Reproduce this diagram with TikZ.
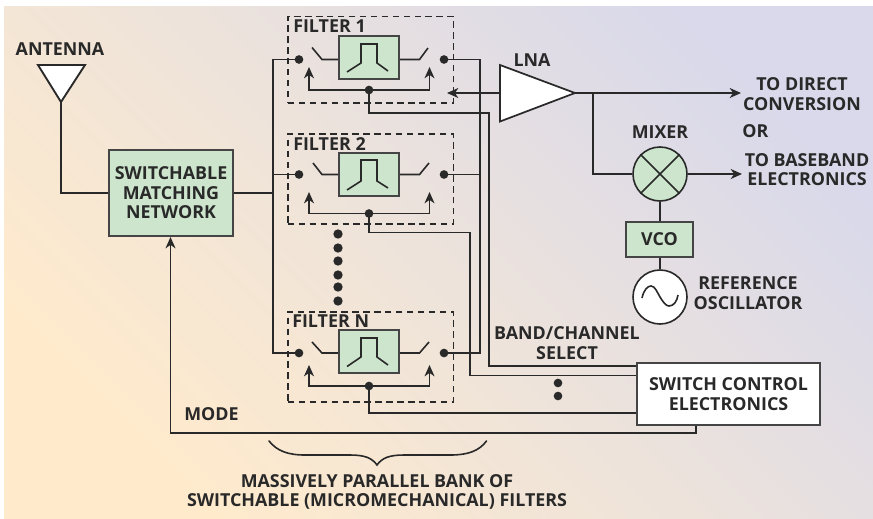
\documentclass[tikz,border=0pt]{standalone}
\usepackage{xcolor}
\usepackage{fontspec}
\setmainfont{Open Sans}
\usetikzlibrary{arrows.meta,shapes.geometric}

\begin{document}
\begin{tikzpicture}[x  = {(0.75pt,0pt)},
                    y  = {(0pt,-0.75pt)}]

  % COLORS
  \definecolor{inkcolor_d}{rgb}{ 0.16,0.16,0.16 }
  \definecolor{boxcolor_d}{rgb}{ 0.27,0.27,0.27 }
  \definecolor{greencolor_d}{rgb}{ 0.80,0.90,0.80 }
  \definecolor{peachcolor_d}{rgb}{ 1.00,0.92,0.80 }
  \definecolor{midcolor_d}{rgb}{ 0.93,0.89,0.86 }
  \definecolor{lavendercolor_d}{rgb}{ 0.85,0.85,0.92 }

  % STYLES
  \tikzstyle{wire_d} = [draw=inkcolor_d, line width=1.2pt, line join=miter]
  \tikzstyle{arrow_d} = [wire_d, -{Stealth[length=8.5pt,width=7.5pt,inset=2.6pt]}]
  \tikzstyle{dash_d} = [draw=inkcolor_d, line width=1pt, dash pattern=on 4.8pt off 3.4pt, minimum width=124pt, minimum height=65pt, inner sep=0pt]
  \tikzstyle{text_d} = [text=inkcolor_d, font=\fontsize{13.4}{14.6}\selectfont\bfseries, align=center, inner sep=0pt]
  \tikzstyle{block_d} = [text_d, draw=boxcolor_d, fill=greencolor_d, line width=1.5pt, inner sep=0pt]
  \tikzstyle{filter_d} = [block_d, minimum width=45pt, minimum height=32.5pt]
  \tikzstyle{round_d} = [circle, draw=inkcolor_d, line width=1.2pt, minimum size=40.5pt, inner sep=0pt]
  \tikzstyle{dot_d} = [circle, fill=inkcolor_d, minimum size=6.5pt, inner sep=0pt]

  % PAGE
  \useasboundingbox (0,0) rectangle (873,518);
  \fill[white] (0,0) rectangle (873,518);
  \shade[bottom color=peachcolor_d, top color=lavendercolor_d, middle color=midcolor_d, shading angle=-45] (4,6) rectangle (873,518);

  % DEF POINTS
  \coordinate (v0_ant) at (38,65);
  \coordinate (v1_ant) at (85,65);
  \coordinate (v2_ant) at (61,102);
  \coordinate (v0_lna) at (500,65);
  \coordinate (v1_lna) at (500,121.5);
  \coordinate (v2_lna) at (575,93);
  \coordinate (in_lna) at (500,93);
  \coordinate (tip_lna) at (447,93);
  \coordinate (tip_direct) at (741,93);
  \coordinate (tip_base) at (742,174);
  \coordinate (branch_lna) at (593,93);
  \coordinate (bus_l) at (273,193);
  \coordinate (bus_l1) at (273,59.5);
  \coordinate (bus_l2) at (273,174.5);
  \coordinate (bus_ln) at (273,353);
  \coordinate (bus_r2) at (480,174.5);
  \coordinate (bus_rn) at (480,353);
  \coordinate (sel_1) at (489,113);
  \coordinate (sel_2) at (470,232.5);
  \coordinate (sel_n) at (369,413);
  \coordinate (mode_a) at (696,433);
  \coordinate (mode_b) at (170.5,433);

  % BLOCKS
  \node[block_d, minimum width=93pt, minimum height=64.5pt] (match_d) at (171,193) {SWITCHABLE\\MATCHING\\NETWORK};
  \node[block_d, minimum width=50pt, minimum height=26pt] (vco_d) at (659.5,239.5) {VCO};
  \node[round_d, fill=greencolor_d] (mixer_d) at (660,174) {};
  \node[round_d, fill=white] (ref_d) at (660,297) {};
  \node[block_d, fill=white, minimum width=137pt, minimum height=46.5pt] (ctrl_d) at (728.5,394) {SWITCH CONTROL\\ELECTRONICS};

  % FILTER 1
  \node[dash_d] (box_f1) at (370.5,59.5) {};
  \node[filter_d] (core_f1) at (369,57.5) {};
  \node[dot_d] (dl_f1) at (299,59.5) {};
  \node[dot_d] (dr_f1) at (444,59.5) {};
  \node[dot_d] (dc_f1) at (369,90) {};
  \draw[wire_d] (core_f1.west |- dl_f1) -- (322,59.5) -- (312,47.5);
  \draw[wire_d] (core_f1.east |- dr_f1) -- (419.5,59.5) -- (428,48);
  \draw[wire_d] (347,72) -- (361,63) -- (361,44) -- (377,44) -- (377,63) -- (388,71);
  \draw[arrow_d] (dc_f1.center) -| (309,67);
  \draw[arrow_d] (dc_f1.center) -| (429.5,67);

  % FILTER 2
  \node[dash_d, minimum height=67.5pt] (box_f2) at (370.5,179) {};
  \node[filter_d] (core_f2) at (369,174.5) {};
  \node[dot_d] (dl_f2) at (299,174.5) {};
  \node[dot_d] (dr_f2) at (444,174.5) {};
  \node[dot_d] (dc_f2) at (369,213.5) {};
  \draw[wire_d] (core_f2.west |- dl_f2) -- (322,174.5) -- (313,163);
  \draw[wire_d] (core_f2.east |- dr_f2) -- (419.5,174.5) -- (429,163);
  \draw[wire_d] (347,190) -- (361,181) -- (361,160) -- (377,160) -- (377,181) -- (388,188);
  \draw[arrow_d] (dc_f2.center) -| (309,192);
  \draw[arrow_d] (dc_f2.center) -| (429.5,192);

  % FILTER N
  \node[dash_d, minimum height=67.5pt] (box_fn) at (370.5,357) {};
  \node[filter_d] (core_fn) at (369,351.5) {};
  \node[dot_d] (dl_fn) at (299,353) {};
  \node[dot_d] (dr_fn) at (444,353) {};
  \node[dot_d] (dc_fn) at (369,386) {};
  \draw[wire_d] (core_fn.west |- dl_fn) -- (322,353) -- (312,342);
  \draw[wire_d] (core_fn.east |- dr_fn) -- (419.5,353) -- (429,342);
  \draw[wire_d] (347,366.5) -- (361,357) -- (361,338) -- (377,338) -- (377,357) -- (388,365);
  \draw[arrow_d] (dc_fn.center) -| (309,365);
  \draw[arrow_d] (dc_fn.center) -| (429.5,365);

  % ANTENNA and LNA
  \draw[wire_d, fill=white, line width=1.4pt] (v0_ant) -- (v1_ant) -- (v2_ant) -- cycle;
  \draw[wire_d] (v2_ant) |- (match_d.west);
  \draw[wire_d, fill=white, line width=1.3pt] (v0_lna) -- (v1_lna) -- (v2_lna) -- cycle;

  % WIRES
  \draw[wire_d] (match_d.east |- bus_l) -- (bus_l);
  \draw[wire_d] (dl_f1.center) -- (bus_l1) -- (bus_ln) -- (dl_fn.center);
  \draw[wire_d] (bus_l2) -- (dl_f2.center);
  \draw[wire_d] (dr_f1.center) -| (bus_rn) -- (dr_fn.center);
  \draw[wire_d] (dr_f2.center) -- (bus_r2);
  \draw[arrow_d] (in_lna) -- (tip_lna);
  \draw[arrow_d] (v2_lna) -- (tip_direct);
  \draw[wire_d] (branch_lna) |- (mixer_d.west);
  \draw[arrow_d] (mixer_d.east) -- (tip_base);
  \draw[wire_d] (mixer_d.south) -- (vco_d.north -| mixer_d.south);
  \draw[wire_d] (vco_d.south -| ref_d.north) -- (ref_d.north);
  \draw[wire_d] (mixer_d.north west) -- (mixer_d.south east);
  \draw[wire_d] (mixer_d.north east) -- (mixer_d.south west);
  \draw[wire_d] (642,298) .. controls (644,289) and (648,286) .. (651,286) .. controls (655,286) and (657,292) .. (660,297) .. controls (663,302) and (666,306) .. (669,306) .. controls (674,306) and (677,301) .. (678,295);
  \draw[wire_d] (dc_f1.center) |- (sel_1) |- (ctrl_d.west |- 0,366);
  \draw[wire_d] (dc_f2.center) |- (sel_2) |- (ctrl_d.west |- 0,375.5);
  \draw[wire_d] (dc_fn.center) -- (sel_n) -- (ctrl_d.west |- sel_n);
  \draw[arrow_d] (ctrl_d.south -| mode_a) -- (mode_a) -- (mode_b) -- (match_d.south -| mode_b);
  \draw[wire_d, line cap=round] (269,441) .. controls (277,451) and (288,455) .. (305,455) -- (350,455) .. controls (365,455) and (372,458) .. (377,465) .. controls (382,458) and (389,455) .. (404,455) -- (450,455) .. controls (468,455) and (479,451) .. (486.5,441);

  % DOTS
  \node[dot_d, minimum size=7pt] (gap_1) at (338,234) {};
  \node[dot_d, minimum size=7pt] (gap_2) at (338,248) {};
  \node[dot_d, minimum size=7pt] (gap_3) at (338,261) {};
  \node[dot_d, minimum size=7pt] (gap_4) at (338,275) {};
  \node[dot_d, minimum size=7pt] (gap_5) at (338,287) {};
  \node[dot_d, minimum size=7pt] (gap_6) at (338,301) {};
  \node[dot_d, minimum size=6.5pt] (sel_gap_1) at (558,383) {};
  \node[dot_d, minimum size=6.5pt] (sel_gap_2) at (558,396) {};

  % LABELS
  \node[text_d] (ant_t) at (60,49) {ANTENNA};
  \node[text_d, anchor=west] (f1_t) at (293,26) {FILTER 1};
  \node[text_d, anchor=west] (f2_t) at (293,144.5) {FILTER 2};
  \node[text_d, anchor=west] (fn_t) at (292,321.5) {FILTER N};
  \node[text_d] (lna_t) at (532,60) {LNA};
  \node[text_d] (direct_t) at (802,94) {TO DIRECT\\CONVERSION};
  \node[text_d, anchor=west] (or_t) at (742,131.5) {OR};
  \node[text_d] (mixer_t) at (660,132) {MIXER};
  \node[text_d] (base_t) at (807,169.5) {TO BASEBAND\\ELECTRONICS};
  \node[text_d] (ref_t) at (748,293) {REFERENCE\\OSCILLATOR};
  \node[text_d] (band_t) at (567,343) {BAND/CHANNEL\\SELECT};
  \node[text_d, anchor=west] (mode_t) at (184,414) {MODE};
  \node[text_d] (bank_t) at (377,492) {MASSIVELY PARALLEL BANK OF\\SWITCHABLE (MICROMECHANICAL) FILTERS};

\end{tikzpicture}
\end{document}
